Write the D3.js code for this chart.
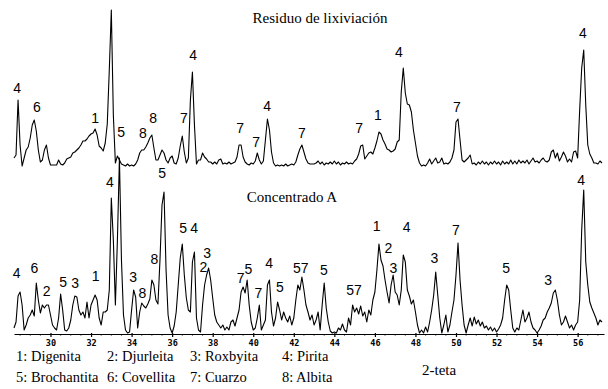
<!DOCTYPE html>
<html><head><meta charset="utf-8">
<script src="https://cdn.jsdelivr.net/npm/d3@7"></script>
<style>
html,body{margin:0;padding:0;background:#fff;}
svg{display:block;}
</style></head>
<body>
<svg id="chart" width="608" height="389"></svg>
<script>
// ---- data ----
const twoThetaStart = 28.2;
const twoThetaStep = 0.1;
const seriesNames = ["Residuo de lixiviación", "Concentrado A"];
const residuo = [
90,120,670,220,10,90,170,200,290,420,
470,360,170,50,70,170,220,90,20,20,
20,20,70,30,20,40,80,90,100,140,
150,170,190,220,260,260,280,310,330,340,
380,320,210,190,160,240,430,970,1570,520,
40,110,70,30,20,10,30,10,20,10,
30,70,140,170,170,200,240,290,320,190,
70,70,120,170,140,70,40,90,110,40,
30,90,210,310,150,40,90,670,950,420,
30,70,70,140,100,80,50,50,30,50,
30,70,80,30,40,30,50,30,40,50,
100,220,220,100,50,30,20,40,30,60,
140,70,30,60,270,480,370,150,40,10,
20,10,20,10,30,10,20,30,20,50,
120,180,220,150,80,40,30,30,30,40,
60,30,50,20,40,30,50,30,60,30,
50,20,40,30,50,30,40,30,60,80,
130,210,220,80,110,140,150,130,190,260,
350,330,270,230,180,170,150,160,180,250,
270,750,990,740,630,620,550,370,240,110,
40,10,20,10,40,80,30,60,90,40,
50,90,30,40,30,50,90,170,450,480,
270,70,50,70,90,120,30,40,20,50,
30,60,30,50,20,50,30,60,30,50,
20,60,30,50,30,70,30,60,30,70,
40,60,40,70,30,60,90,50,60,40,
70,90,60,50,70,150,170,90,140,60,
100,150,110,50,80,50,150,160,90,570,
990,1170,620,220,130,90,40,40,30,60,
40
];
const concentrado = [
60,120,380,420,290,40,90,160,190,240,
180,510,340,210,290,260,290,290,190,90,
60,40,160,400,240,40,30,60,140,290,
380,370,240,190,220,160,320,160,290,340,
390,340,160,90,220,220,240,440,1360,940,
290,940,1760,740,190,40,10,20,240,440,
370,60,220,310,280,260,300,350,540,490,
340,300,740,1290,1420,640,190,60,10,80,
220,490,760,900,590,360,240,220,720,820,
160,40,20,290,490,590,660,540,360,190,
120,90,60,90,40,70,40,120,140,80,
160,240,420,470,410,540,290,120,40,60,
160,290,40,90,140,490,540,220,80,160,
320,240,140,220,160,120,180,90,160,340,
490,440,570,440,290,220,140,190,90,140,
220,40,290,510,260,120,30,10,20,10,
60,40,100,40,20,160,90,290,220,260,
200,280,180,220,120,240,190,340,420,640,
900,740,680,540,420,310,490,590,420,390,
290,440,790,720,440,380,300,340,220,90,
10,40,10,70,20,120,240,390,620,390,
160,10,90,190,20,90,220,340,590,910,
540,290,90,10,90,160,80,170,100,140,
80,120,60,80,40,70,30,60,20,50,
90,160,340,490,440,240,60,20,60,40,
140,240,120,160,220,120,60,40,10,40,
80,140,160,220,260,310,410,440,340,190,
90,120,180,120,60,90,40,90,120,340,
1040,1440,720,490,320,260,210,160,90,140,
120
];
const tickValues = [30,32,34,36,38,40,42,44,46,48,50,52,54,56];
const axisTitle = "2-teta";
const residuoLabels = [
 ["4",28.35,790],["6",29.33,600],["1",32.20,490],["5",33.48,350],["8",34.56,340],
 ["8",35.06,490],["7",36.58,490],["4",37.03,1120],["7",39.35,390],["7",40.14,250],
 ["4",40.68,610],["7",42.40,340],["7",45.22,390],["1",46.15,520],["4",47.19,1150],
 ["7",50.05,600],["4",56.26,1340]
];
const concentradoLabels = [
 ["4",28.33,607],["6",29.20,663],["2",29.81,430],["5",30.63,523],["3",31.21,513],
 ["1",32.23,580],["4",32.93,1523],["5",35.51,1607],["3",34.08,573],["8",34.53,407],
 ["8",35.12,750],["5",36.54,1057],["4",37.09,1057],["2",37.54,673],["3",37.73,807],
 ["7",39.38,563],["5",39.76,650],["7",40.25,413],["4",40.78,713],["5",41.32,467],
 ["57",42.34,663],["5",43.49,640],["57",44.97,440],["1",46.09,1083],["2",46.66,857],
 ["3",46.91,657],["4",47.57,1073],["3",48.93,757],["7",50.00,1040],["5",52.47,657],
 ["3",54.55,540],["4",56.17,1540]
];
const legendRow1 = ["1: Digenita","2: Djurleita","3: Roxbyita","4: Pirita"];
const legendRow2 = ["5: Brochantita","6: Covellita","7: Cuarzo","8: Albita"];

// ---- drawing ----
const svg = d3.select("#chart");
const x = d3.scaleLinear().domain([28.2, 57.3]).range([14, 604]);
const yTop = d3.scaleLinear().domain([0, 1000]).range([167, 67]);
const yBot = d3.scaleLinear().domain([0, 1000]).range([334, 234]);

function drawTrace(values, y) {
  const line = d3.line()
    .x((d, i) => x(twoThetaStart + i * twoThetaStep))
    .y(d => y(d));
  svg.append("path").datum(values)
    .attr("d", line)
    .attr("fill", "none")
    .attr("stroke", "#000")
    .attr("stroke-width", 1.1)
    .attr("stroke-linejoin", "round");
}
drawTrace(residuo, yTop);
drawTrace(concentrado, yBot);

function drawLabels(labels, y) {
  svg.append("g").selectAll("text").data(labels).join("text")
    .attr("x", d => x(d[1]))
    .attr("y", d => y(d[2]))
    .attr("dy", "0.35em")
    .attr("text-anchor", "middle")
    .attr("font-family", "'Liberation Sans', Arial, sans-serif")
    .attr("font-size", 14)
    .attr("fill", "#000")
    .text(d => d[0]);
}
drawLabels(residuoLabels, yTop);
drawLabels(concentradoLabels, yBot);

// titles
svg.append("text").attr("x", 320).attr("y", 23).attr("text-anchor", "middle")
  .attr("font-family", "'Liberation Serif', 'Times New Roman', serif").attr("font-size", 15)
  .text(seriesNames[0]);
svg.append("text").attr("x", 292).attr("y", 202).attr("text-anchor", "middle")
  .attr("font-family", "'Liberation Serif', 'Times New Roman', serif").attr("font-size", 15)
  .text(seriesNames[1]);

// axis
const axis = d3.axisBottom(x).tickValues(tickValues).tickSizeInner(3).tickSizeOuter(0)
  .tickFormat(d3.format("d"));
const gAxis = svg.append("g").attr("transform", "translate(0,334)").call(axis);
gAxis.select(".domain").attr("stroke", "#000").attr("stroke-width", 1.2);
gAxis.selectAll(".tick line").attr("stroke", "#000").attr("stroke-width", 1.2).attr("y1", -1);
gAxis.selectAll(".tick text").attr("font-family", "'DejaVu Sans Mono', monospace")
  .attr("font-weight", "bold").attr("font-size", 8.5).attr("y", 6).attr("fill", "#000");
const minor = d3.range(28.5, 57.3, 0.5).filter(v => Math.abs(v - Math.round(v/2)*2) > 0.01);
gAxis.append("g").selectAll("line").data(minor).join("line")
  .attr("x1", d => x(d)).attr("x2", d => x(d)).attr("y1", 0).attr("y2", 1.5)
  .attr("stroke", "#000").attr("stroke-width", 1);

// legend
const legendFont = "'Liberation Serif', 'Times New Roman', serif";
const cols = [16, 107, 190, 282];
svg.append("g").selectAll("text").data(legendRow1).join("text")
  .attr("x", (d, i) => cols[i]).attr("y", 361)
  .attr("font-family", legendFont).attr("font-size", 14.5).text(d => d);
svg.append("g").selectAll("text").data(legendRow2).join("text")
  .attr("x", (d, i) => cols[i]).attr("y", 382)
  .attr("font-family", legendFont).attr("font-size", 14.5).text(d => d);
svg.append("text").attr("x", 422).attr("y", 375)
  .attr("font-family", legendFont).attr("font-size", 15).text(axisTitle);
</script>
</body></html>
